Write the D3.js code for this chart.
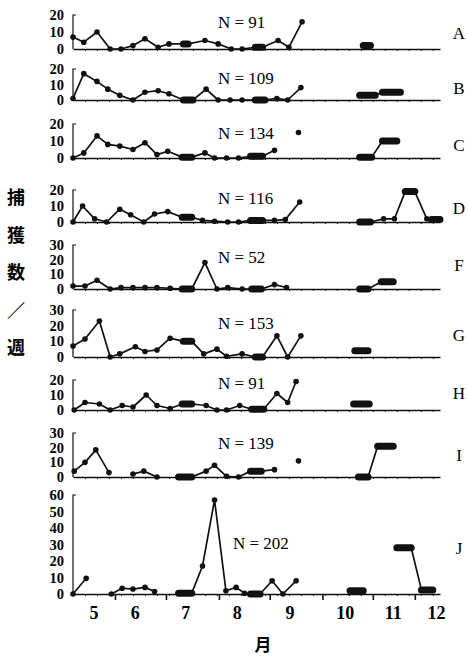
<!DOCTYPE html>
<meta charset="utf-8">
<style>
body { margin: 0; background: #fff; }
.line { fill: none; stroke: #111; stroke-width: 1.7px; stroke-linejoin: round; }
.blob { stroke: #111; stroke-width: 7px; stroke-linecap: round; }
.dot { fill: #111; }
.base path, .base line { stroke: #111; }
.base path { stroke-width: 1.6px; }
</style>
<body>
<script src="https://d3js.org/d3.v7.min.js"></script>
<script>

// panels, top to bottom
var panelNames = ["A", "B", "C", "D", "F", "G", "H", "I", "J"];
var panelN = [91, 109, 134, 116, 52, 153, 91, 139, 202];
var panelMax = [20, 20, 20, 20, 30, 30, 20, 30, 60];

// weekly catches: [week, value] points, [week0, week1, value] = overlapping run, null = gap
var seriesA = [[0,7],[0.9,4],[2,10],[3.1,0],[4,0],[5,2],[6,6],[7.1,1],[8,3],[9.2,9.6,3],[11,5],[12.1,3],[13.2,0],[14.1,0],[15.2,15.8,1],[17.1,5],[18,1],[19.1,16],null,[24.2,24.8,2]];
var seriesB = [[0,1],[0.9,17],[2,12],[2.9,7],[3.9,3],[5,0],[6,5],[7.1,6],[8,4],[9.2,10,0],[11.1,7],[12.1,0],[13.1,0],[14.1,0],[15.2,16,0],[17,1],[17.9,0],[19,8],null,[23.9,25.2,3],[25.8,27.3,5]];
var seriesC = [[0,0],[0.9,3],[2,13],[2.9,8],[3.9,7],[5,5],[6,9],[7,2],[7.9,4],[9.1,9.9,0.5],[11,3],[11.8,0],[12.8,0],[13.8,0],[14.8,15.8,1],[16.8,4.5],null,[18.8,15],null,[23.9,24.9,0.5],[25.8,27,10]];
var seriesD = [[0,0],[0.8,10],[1.8,2],[2.8,0],[3.9,8],[4.8,4.5],[5.9,0],[6.8,5],[7.9,6.5],[9.1,9.9,3],[10.8,1],[11.8,0.5],[12.9,0],[13.8,0],[14.8,15.8,1],[16.8,1],[17.7,1.5],[18.9,12.5],null,[23.9,24.8,0],[25.9,2],[26.8,2],[27.7,28.5,19],[29.5,2],[29.9,30.6,1.5]];
var seriesF = [[0,2],[1,2],[2,6],[3.1,0],[4,1],[5,1],[6,1],[7,1],[8.1,0.5],[9.1,9.9,0],[11,18],[12,0],[12.9,1],[14.1,0],[14.9,15.7,0],[16.8,3],[17.8,1],null,[23.9,24.6,0],[25.7,26.7,5]];
var seriesG = [[0,7],[1,11.5],[2.2,23],[3.1,0],[3.9,2],[5.2,6.5],[6,3.5],[7,4.5],[8.1,12],[9.2,9.9,10],[10.9,2],[12,5],[12.8,0.5],[14.1,2],[15.2,15.8,0],[17,13.5],[17.9,0],[19,13.5],null,[23.5,24.6,4]];
var seriesH = [[0.1,0],[1,5],[2.2,4],[3.1,0],[4.1,3],[5,2],[6.1,10],[7,3],[8.1,1],[9.1,9.9,4],[11.1,3],[12,0],[12.8,0],[13.9,3],[14.9,15.9,0.5],[17,11],[17.9,5],[18.6,19],null,[23.4,24.7,4]];
var seriesI = [[0.1,4],[1,10],[1.9,18.5],[3,3],null,[5,2],[5.9,4],[7,0],null,[8.8,9.9,0],[11.1,4],[11.8,8],[12.8,0.5],[13.8,0],[14.8,15.7,4],[16.8,5],null,[18.8,11],null,[23.8,24.6,0],[25.4,26.7,21]];
var seriesJ = [[0,0],[1.1,9.5],null,[3.2,0],[4.1,3.5],[5,3],[6,4],[6.8,1.5],null,[8.8,9.9,0.5],[10.8,17],[11.8,57],[12.75,2],[13.6,4],[14.3,0.5],[14.8,15.6,0],[16.6,8],[17.5,0],[18.6,8],null,[23.1,24.2,2],null,[27,28.2,28],[29.05,30,2.5]];
var allSeries = [seriesA, seriesB, seriesC, seriesD, seriesF, seriesG, seriesH, seriesI, seriesJ];

// month axis (in weeks from start of record)
var monthStarts = [3.5, 7.75, 12.17, 16.4, 20.8, 25, 28.5];
var monthNames = ["5", "6", "7", "8", "9", "10", "11", "12"];
var monthLabelAt = [1.75, 5.2, 9.4, 13.7, 18.1, 22.7, 26.7, 30.3];

// layout: pixel positions of each panel
var panelBase = [49, 100, 158, 222, 289, 357, 410, 477, 594];
var panelTop  = [15, 69, 124, 190, 245, 310, 380, 433, 495];
var nLabelY   = [22, 78, 133, 198, 257, 323, 383, 443, 543];
var letterY   = [33, 88, 145, 208, 265, 335, 393, 455, 548];

var width = 468, height = 657;
var serif = "'Liberation Serif', 'DejaVu Serif', serif";
var cjk = "'Noto Sans CJK JP', sans-serif";

var svg = d3.select("body").append("svg")
    .attr("width", width)
    .attr("height", height)
    .style("background", "#fff");

var x = d3.scaleLinear().domain([0, 30.6]).range([73, 440]);

allSeries.forEach(function(series, i) {
  var y = d3.scaleLinear().domain([0, panelMax[i]]).range([panelBase[i], panelTop[i]]);
  var g = svg.append("g");

  // baseline with small weekly ticks
  g.append("g")
      .attr("class", "base")
      .attr("transform", "translate(0," + panelBase[i] + ")")
      .call(d3.axisBottom(x).tickValues(d3.range(1, 31)).tickSize(2).tickSizeOuter(0).tickFormat(""));

  // y labels
  var ya = g.append("g")
      .call(d3.axisLeft(y).tickValues(d3.range(0, panelMax[i] + 1, 10)).tickSize(0).tickPadding(9))
      .attr("font-family", serif)
      .attr("font-size", 14.5)
      .attr("font-weight", "bold");
  ya.select(".domain").remove();
  ya.attr("transform", "translate(" + x(0) + ",0)");

  // bracket-like y axis
  g.append("path")
      .attr("d", "M" + (x(0) + 3) + "," + y(panelMax[i]) + "H" + x(0) + "V" + panelBase[i])
      .attr("fill", "none")
      .attr("stroke", "#111")
      .attr("stroke-width", 1.2);

  // split into segments
  var segs = [], cur = [];
  series.forEach(function(d) {
    if (d === null) { if (cur.length) segs.push(cur); cur = []; }
    else cur.push(d);
  });
  if (cur.length) segs.push(cur);

  var line = d3.line().x(function(p) { return x(p[0]); }).y(function(p) { return y(p[1]); });

  segs.forEach(function(seg) {
    var pts = [];
    seg.forEach(function(d) {
      if (d.length === 3) { pts.push([d[0], d[2]]); pts.push([d[1], d[2]]); }
      else pts.push(d);
    });
    g.append("path").datum(pts).attr("class", "line").attr("d", line);
  });

  g.selectAll(".dot")
    .data(series.filter(function(d) { return d && d.length === 2; }))
    .enter().append("circle")
      .attr("class", "dot")
      .attr("cx", function(d) { return x(d[0]); })
      .attr("cy", function(d) { return y(d[1]); })
      .attr("r", 2.8);

  g.selectAll(".blob")
    .data(series.filter(function(d) { return d && d.length === 3; }))
    .enter().append("line")
      .attr("class", "blob")
      .attr("x1", function(d) { return x(d[0]); })
      .attr("x2", function(d) { return x(d[1]); })
      .attr("y1", function(d) { return y(d[2]); })
      .attr("y2", function(d) { return y(d[2]); });

  // N = ...
  svg.append("text")
      .attr("x", i === 8 ? 233 : 218)
      .attr("y", nLabelY[i])
      .attr("dy", "0.35em")
      .attr("font-family", serif)
      .attr("font-size", 17)
      .text("N = " + panelN[i]);

  // panel letter
  svg.append("text")
      .attr("x", 459)
      .attr("y", letterY[i])
      .attr("dy", "0.35em")
      .attr("text-anchor", "middle")
      .attr("font-family", serif)
      .attr("font-size", 17)
      .text(panelNames[i]);
});

// month ticks on the bottom panel
var last = panelBase[8];
var ma = svg.append("g")
    .attr("class", "base")
    .attr("transform", "translate(0," + last + ")")
    .call(d3.axisBottom(x).tickValues(monthStarts).tickSize(6).tickSizeOuter(0).tickFormat(""));
ma.select(".domain").remove();
ma.selectAll("line").attr("stroke-width", 1.6);

svg.selectAll(".month")
  .data(monthNames)
  .enter().append("text")
    .attr("class", "month")
    .attr("x", function(d, i) { return x(monthLabelAt[i]); })
    .attr("y", 613)
    .attr("dy", "0.35em")
    .attr("text-anchor", "middle")
    .attr("font-family", serif)
    .attr("font-size", 18)
    .attr("font-weight", "bold")
    .text(function(d) { return d; });

svg.append("text")
    .attr("x", 263)
    .attr("y", 645)
    .attr("dy", "0.35em")
    .attr("text-anchor", "middle")
    .attr("font-family", cjk)
    .attr("font-size", 17)
    .attr("font-weight", "bold")
    .text("月");

// vertical y title
var yTitle = ["捕", "獲", "数", "／", "週"];
svg.selectAll(".ytitle")
  .data(yTitle)
  .enter().append("text")
    .attr("class", "ytitle")
    .attr("x", 16)
    .attr("y", function(d, i) { return 198 + i * 37.5; })
    .attr("dy", "0.35em")
    .attr("text-anchor", "middle")
    .attr("font-family", cjk)
    .attr("font-size", 18)
    .attr("font-weight", "bold")
    .text(function(d) { return d; });

</script>
